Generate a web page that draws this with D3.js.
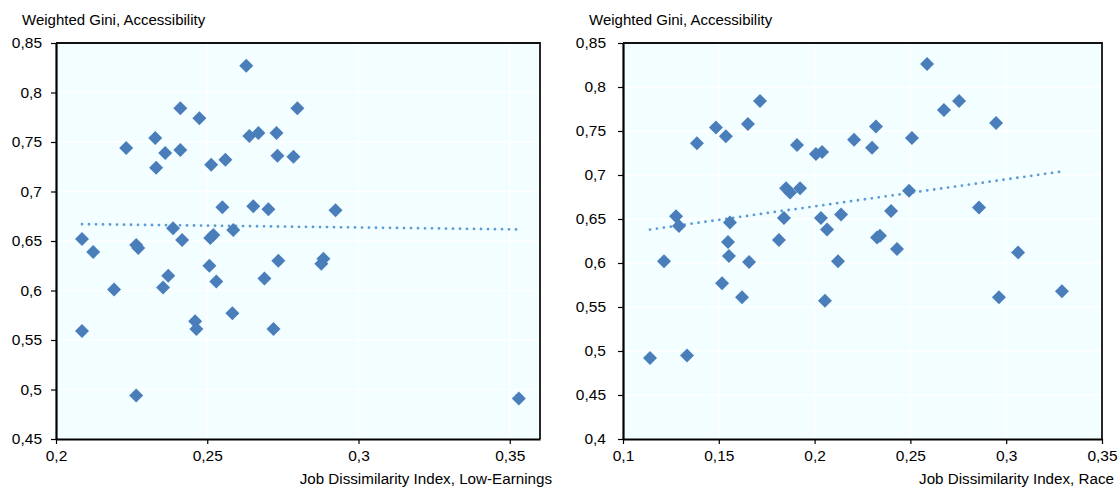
<!DOCTYPE html>
<html>
<head>
<meta charset="utf-8">
<script src="https://cdn.jsdelivr.net/npm/d3@7"></script>
<style>
  body { margin: 0; background: #fff; }
  svg text { font-family: "Liberation Sans", Arial, sans-serif; fill: #000; }
</style>
</head>
<body>
<div id="chart"></div>
<script>
// values
const lowEarningsPoints = [
    [0.2086, 0.652], [0.2086, 0.559], [0.2123, 0.639], [0.2192, 0.601], [0.2232, 0.744],
    [0.2265, 0.646], [0.2272, 0.643], [0.2265, 0.494], [0.2328, 0.754], [0.2331, 0.724],
    [0.2361, 0.739], [0.2354, 0.603], [0.2371, 0.615], [0.2387, 0.663], [0.2411, 0.784],
    [0.2411, 0.742], [0.2417, 0.651], [0.2474, 0.774], [0.2460, 0.569], [0.2464, 0.561],
    [0.2507, 0.625], [0.2510, 0.653], [0.2520, 0.656], [0.2513, 0.727], [0.2530, 0.609],
    [0.2560, 0.732], [0.2550, 0.684], [0.2586, 0.661], [0.2583, 0.577], [0.2629, 0.827],
    [0.2639, 0.756], [0.2652, 0.685], [0.2669, 0.759], [0.2689, 0.612], [0.2702, 0.682],
    [0.2719, 0.561], [0.2729, 0.759], [0.2732, 0.736], [0.2735, 0.630], [0.2785, 0.735],
    [0.2798, 0.784], [0.2924, 0.681], [0.2877, 0.627], [0.2884, 0.632], [0.3530, 0.491]
];
const lowEarningsTrend = [[0.2086, 0.667], [0.3530, 0.6617]];

const racePoints = [
    [0.1141, 0.492], [0.1214, 0.602], [0.1277, 0.653], [0.1292, 0.642], [0.1334, 0.495],
    [0.1386, 0.736], [0.1485, 0.754], [0.1537, 0.744], [0.1517, 0.577], [0.1548, 0.624],
    [0.1558, 0.646], [0.1553, 0.608], [0.1621, 0.561], [0.1652, 0.758], [0.1658, 0.601],
    [0.1715, 0.784], [0.1908, 0.734], [0.1814, 0.626], [0.1840, 0.651], [0.1851, 0.685],
    [0.1872, 0.680], [0.1924, 0.685], [0.2007, 0.724], [0.2039, 0.726], [0.2033, 0.651],
    [0.2065, 0.638], [0.2122, 0.602], [0.2054, 0.557], [0.2138, 0.655], [0.2587, 0.826],
    [0.2754, 0.784], [0.2675, 0.774], [0.2947, 0.759], [0.2320, 0.755], [0.2206, 0.740],
    [0.2300, 0.731], [0.2508, 0.742], [0.2493, 0.682], [0.2858, 0.663], [0.2399, 0.659],
    [0.2326, 0.629], [0.2341, 0.631], [0.2430, 0.616], [0.3062, 0.612], [0.2962, 0.561],
    [0.3291, 0.568]
];
const raceTrend = [[0.1141, 0.638], [0.3291, 0.704]];

const lowEarningsXTicks = [0.2, 0.25, 0.3, 0.35];
const lowEarningsYTicks = [0.45, 0.5, 0.55, 0.6, 0.65, 0.7, 0.75, 0.8, 0.85];
const raceXTicks = [0.1, 0.15, 0.2, 0.25, 0.3, 0.35];
const raceYTicks = [0.4, 0.45, 0.5, 0.55, 0.6, 0.65, 0.7, 0.75, 0.8, 0.85];

const yTitle = "Weighted Gini, Accessibility";

const svgWidth = 1120;
const svgHeight = 490;

const svg = d3.select("#chart")
    .append("svg")
    .attr("width", svgWidth)
    .attr("height", svgHeight);

const fmt = d => String(+d.toFixed(2)).replace(".", ",");

function drawPanel(opts) {
    const x = d3.scaleLinear().domain(opts.xDomain).range([opts.left, opts.right]);
    const y = d3.scaleLinear().domain(opts.yDomain).range([opts.bottom, opts.top]);

    const g = svg.append("g");

    g.append("rect")
        .attr("x", opts.left)
        .attr("y", opts.top)
        .attr("width", opts.right - opts.left)
        .attr("height", opts.bottom - opts.top)
        .attr("fill", "#f2feff");

    // gridlines
    g.selectAll(".hgrid")
        .data(opts.yTicks)
        .enter()
        .append("line")
        .attr("x1", opts.left)
        .attr("x2", opts.right)
        .attr("y1", d => y(d))
        .attr("y2", d => y(d))
        .attr("stroke", "#fff")
        .attr("stroke-width", 1.5);

    g.selectAll(".vgrid")
        .data(opts.xTicks)
        .enter()
        .append("line")
        .attr("x1", d => x(d))
        .attr("x2", d => x(d))
        .attr("y1", opts.top)
        .attr("y2", opts.bottom)
        .attr("stroke", "#fff")
        .attr("stroke-width", 1.5);

    // frame (top/right)
    g.append("path")
        .attr("d", `M${opts.left},${opts.top}H${opts.right}V${opts.bottom}`)
        .attr("fill", "none")
        .attr("stroke", "#111")
        .attr("stroke-width", 1.8);

    const xAxis = g.append("g")
        .attr("transform", `translate(0, ${opts.bottom})`)
        .call(d3.axisBottom(x).tickValues(opts.xTicks).tickFormat(fmt).tickSize(5).tickPadding(6).tickSizeOuter(0));

    const yAxis = g.append("g")
        .attr("transform", `translate(${opts.left}, 0)`)
        .call(d3.axisLeft(y).tickValues(opts.yTicks).tickFormat(fmt).tickSize(5).tickPadding(opts.yPad).tickSizeOuter(0));

    [xAxis, yAxis].forEach(ax => {
        ax.select(".domain").attr("stroke", "#000").attr("stroke-width", 2.2);
        ax.selectAll(".tick line").attr("stroke", "#000").attr("stroke-width", 1.2);
        ax.selectAll("text").attr("font-size", 15.5).attr("font-family", '"Liberation Sans", Arial, sans-serif');
    });

    // trend line
    g.append("line")
        .attr("x1", x(opts.trend[0][0]))
        .attr("y1", y(opts.trend[0][1]))
        .attr("x2", x(opts.trend[1][0]))
        .attr("y2", y(opts.trend[1][1]))
        .attr("stroke", "#5b9bd5")
        .attr("stroke-width", 2.8)
        .attr("stroke-linecap", "round")
        .attr("stroke-dasharray", "0 7");

    const diamond = d3.symbol().type(d3.symbolSquare).size(98);

    g.selectAll(".pt")
        .data(opts.points)
        .enter()
        .append("path")
        .attr("d", diamond)
        .attr("transform", d => `translate(${x(d[0])}, ${y(d[1])}) rotate(45)`)
        .attr("fill", "#4a7ebb");

    g.append("text")
        .attr("x", opts.titleX)
        .attr("y", 25)
        .attr("font-size", 15)
        .text(yTitle);

    g.append("text")
        .attr("x", opts.xTitleX)
        .attr("y", 484)
        .attr("text-anchor", "end")
        .attr("font-size", 15.2)
        .text(opts.xTitle);
}

drawPanel({
    points: lowEarningsPoints,
    trend: lowEarningsTrend,
    xDomain: [0.2, 0.36],
    yDomain: [0.45, 0.85],
    xTicks: lowEarningsXTicks,
    yTicks: lowEarningsYTicks,
    left: 56, right: 540, top: 43, bottom: 439,
    yPad: 9,
    titleX: 22,
    xTitle: "Job Dissimilarity Index, Low-Earnings",
    xTitleX: 552
});

drawPanel({
    points: racePoints,
    trend: raceTrend,
    xDomain: [0.1, 0.35],
    yDomain: [0.4, 0.85],
    xTicks: raceXTicks,
    yTicks: raceYTicks,
    left: 623, right: 1102, top: 43, bottom: 439,
    yPad: 12,
    titleX: 589,
    xTitle: "Job Dissimilarity Index, Race",
    xTitleX: 1114
});
</script>
</body>
</html>
